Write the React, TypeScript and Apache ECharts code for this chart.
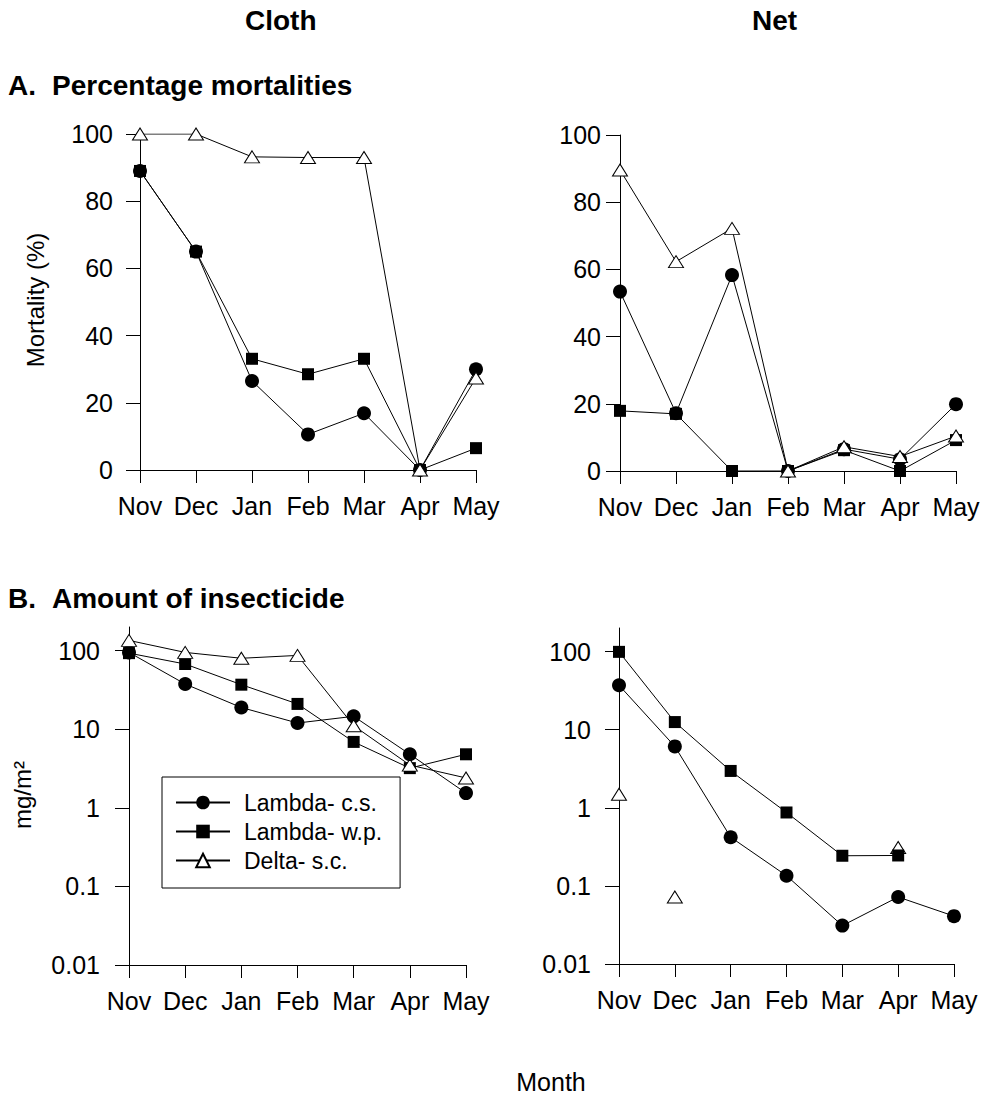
import React, { useEffect, useRef } from "react";
import * as echarts from "echarts";

const months = ["Nov", "Dec", "Jan", "Feb", "Mar", "Apr", "May"];
const seriesNames = ["Lambda- c.s.", "Lambda- w.p.", "Delta- s.c."];

// A. Percentage mortalities
const clothMortLcs = [89, 65, 26.5, 10.6, 16.9, 0, 30];
const clothMortLwp = [89, 65, 33.1, 28.5, 33.1, 0, 6.5];
const clothMortDsc = [100, 100, 93.2, 93, 93, 0, 27.4];
const netMortLcs = [53.4, 17.2, 58.3, 0, 6.5, 3.5, 19.9];
const netMortLwp = [17.9, 17, 0, 0, 6.2, 0, 9.2];
const netMortDsc = [89.6, 62.3, 72.2, 0, 7.2, 4.3, 10.4];

// B. Amount of insecticide (mg/m2)
const clothAmtLcs = [95, 37.6, 18.9, 12.0, 14.6, 4.8, 1.54];
const clothAmtLwp = [93, 67.6, 36.9, 21.0, 6.9, 3.2, 4.8];
const clothAmtDsc = [135, 95, 80, 87, 11.1, 3.5, 2.4];
const netAmtLcs = [37, 6.1, 0.42, 0.135, 0.031, 0.072, 0.041];
const netAmtLwp = [99, 12.5, 2.96, 0.87, 0.243, 0.245, null];
const netAmtDsc = [1.49, 0.072, null, null, null, 0.31, null];

const mortTicks = [0, 20, 40, 60, 80, 100];
const logTicks = [0.01, 0.1, 1, 10, 100];

const FONT = "'Liberation Sans', Arial, Helvetica, sans-serif";

export default function App() {
  const ref = useRef<HTMLDivElement>(null);

  useEffect(() => {
    if (!ref.current) return;
    const chart = echarts.init(ref.current, undefined, { renderer: "svg" });

    const symStyle: any = {
      lcs: { symbol: "circle", symbolSize: 14, itemStyle: { color: "#000", opacity: 1 } },
      lwp: { symbol: "rect", symbolSize: 12, itemStyle: { color: "#000", opacity: 1 } },
      dsc: {
        symbol: "triangle",
        symbolSize: [15, 12],
        itemStyle: { color: "#fff", borderColor: "#000", borderWidth: 1, opacity: 1 },
      },
    };

    const mkLine = (key: string, name: string, data: any[], idx: number, scatter = false) => ({
      type: scatter ? "scatter" : "line",
      name,
      xAxisIndex: idx,
      yAxisIndex: idx,
      data,
      showSymbol: true,
      connectNulls: false,
      lineStyle: { color: "#000", width: 1 },
      ...symStyle[key],
    });

    const grids = [
      { left: 140, top: 134, width: 336, height: 336 },
      { left: 620, top: 135, width: 336, height: 336 },
      { left: 129, top: 627, width: 337, height: 338 },
      { left: 619, top: 628, width: 335, height: 336 },
    ];

    const xAxisBase = (idx: number) => ({
      type: "category",
      gridIndex: idx,
      data: months,
      boundaryGap: false,
      axisLine: { lineStyle: { color: "#000", width: 1 } },
      axisTick: { length: 13, lineStyle: { color: "#000" }, interval: 0 },
      axisLabel: { color: "#000", fontSize: 25, fontFamily: FONT, margin: 23, interval: 0 },
      splitLine: { show: false },
    });

    const yMort = (idx: number, margin: number) => ({
      type: "value",
      gridIndex: idx,
      min: 0,
      max: 100,
      interval: 20,
      axisLine: { show: true, lineStyle: { color: "#000", width: 1 } },
      axisTick: { show: true, length: 14, lineStyle: { color: "#000" } },
      axisLabel: { color: "#000", fontSize: 25, fontFamily: FONT, margin },
      splitLine: { show: false },
    });

    const yLog = (idx: number, margin: number) => ({
      type: "log",
      logBase: 10,
      gridIndex: idx,
      min: 0.01,
      max: 200,
      axisLine: { show: true, lineStyle: { color: "#000", width: 1 } },
      axisTick: { show: true, length: 14, lineStyle: { color: "#000" }, customValues: logTicks },
      axisLabel: {
        color: "#000",
        fontSize: 25,
        fontFamily: FONT,
        margin,
        customValues: logTicks,
        formatter: (v: number) => {
          const m = logTicks.find((t) => Math.abs(Math.log10(t) - Math.log10(v)) < 1e-6);
          return m !== undefined ? String(m) : "";
        },
      },
      splitLine: { show: false },
    });

    const textStyleBase = { fill: "#000", fontFamily: FONT };

    const option: any = {
      animation: false,
      backgroundColor: "#fff",
      grid: grids,
      xAxis: [xAxisBase(0), xAxisBase(1), xAxisBase(2), xAxisBase(3)],
      yAxis: [yMort(0, 27), yMort(1, 19), yLog(2, 29), yLog(3, 28)],
      legend: {
        data: seriesNames,
        left: 162,
        top: 777,
        orient: "vertical",
        borderColor: "#000",
        borderWidth: 1,
        borderRadius: 0,
        padding: [14, 18, 16, 13],
        itemWidth: 54,
        itemHeight: 17,
        itemGap: 6,
        selectedMode: false,
        textStyle: { color: "#000", fontSize: 23, fontFamily: FONT, padding: [0, 0, 0, 9] },
      },
      series: [
        mkLine("lcs", seriesNames[0], clothMortLcs, 0),
        mkLine("lwp", seriesNames[1], clothMortLwp, 0),
        mkLine("dsc", seriesNames[2], clothMortDsc, 0),
        mkLine("lcs", seriesNames[0], netMortLcs, 1),
        mkLine("lwp", seriesNames[1], netMortLwp, 1),
        mkLine("dsc", seriesNames[2], netMortDsc, 1),
        mkLine("lcs", seriesNames[0], clothAmtLcs, 2),
        mkLine("lwp", seriesNames[1], clothAmtLwp, 2),
        mkLine("dsc", seriesNames[2], clothAmtDsc, 2),
        mkLine("lcs", seriesNames[0], netAmtLcs, 3),
        mkLine("lwp", seriesNames[1], netAmtLwp, 3),
        mkLine("dsc", seriesNames[2], netAmtDsc, 3, true),
      ],
      graphic: [
        { type: "text", left: 245, top: 6, style: { ...textStyleBase, text: "Cloth", fontSize: 28, fontWeight: "bold" } },
        { type: "text", left: 752, top: 6, style: { ...textStyleBase, text: "Net", fontSize: 28, fontWeight: "bold" } },
        { type: "text", left: 8, top: 71, style: { ...textStyleBase, text: "A.", fontSize: 28, fontWeight: "bold" } },
        { type: "text", left: 52, top: 71, style: { ...textStyleBase, text: "Percentage mortalities", fontSize: 28, fontWeight: "bold" } },
        { type: "text", left: 8, top: 584, style: { ...textStyleBase, text: "B.", fontSize: 28, fontWeight: "bold" } },
        { type: "text", left: 52, top: 584, style: { ...textStyleBase, text: "Amount of insecticide", fontSize: 28, fontWeight: "bold" } },
        {
          type: "text",
          x: 35,
          y: 300,
          rotation: Math.PI / 2,
          style: { ...textStyleBase, text: "Mortality (%)", fontSize: 24, align: "center", verticalAlign: "middle" },
        },
        {
          type: "text",
          x: 22,
          y: 795,
          rotation: Math.PI / 2,
          style: { ...textStyleBase, text: "mg/m²", fontSize: 24, align: "center", verticalAlign: "middle" },
        },
        {
          type: "text",
          x: 551,
          y: 1082,
          style: { ...textStyleBase, text: "Month", fontSize: 25, align: "center", verticalAlign: "middle" },
        },
      ],
    };

    chart.setOption(option);
    return () => chart.dispose();
  }, []);

  return (
    <div
      ref={ref}
      style={{ position: "absolute", left: 0, top: 0, width: 984, height: 1097, background: "#fff" }}
    />
  );
}
